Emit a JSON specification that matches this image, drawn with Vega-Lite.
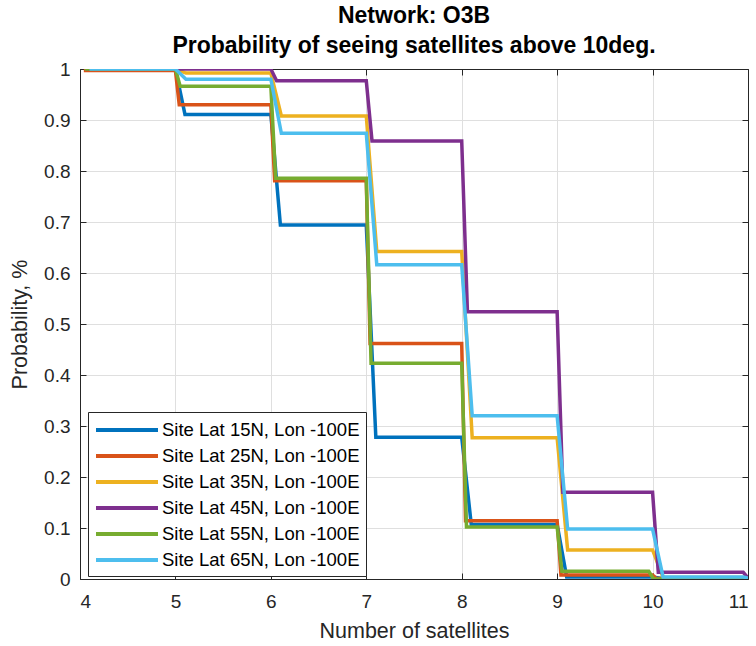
{
  "$schema": "https://vega.github.io/schema/vega-lite/v6.json",
  "width": 668,
  "height": 510,
  "autosize": {"type": "none"},
  "padding": {"left": 80, "top": 69, "right": 8, "bottom": 67},
  "background": "white",
  "title": {
    "text": ["Network: O3B", "Probability of seeing satellites above 10deg."],
    "anchor": "middle",
    "frame": "group",
    "font": "Liberation Sans",
    "fontSize": 23,
    "fontWeight": "bold",
    "color": "#000000",
    "lineHeight": 30,
    "offset": 2
  },
  "data": {"values": [
    {"site": "Site Lat 15N, Lon -100E", "n": 4.1, "p": 1.0},
    {"site": "Site Lat 15N, Lon -100E", "n": 5, "p": 1.0},
    {"site": "Site Lat 15N, Lon -100E", "n": 5.1, "p": 0.911},
    {"site": "Site Lat 15N, Lon -100E", "n": 6, "p": 0.911},
    {"site": "Site Lat 15N, Lon -100E", "n": 6.1, "p": 0.694},
    {"site": "Site Lat 15N, Lon -100E", "n": 7, "p": 0.694},
    {"site": "Site Lat 15N, Lon -100E", "n": 7.1, "p": 0.278},
    {"site": "Site Lat 15N, Lon -100E", "n": 8, "p": 0.278},
    {"site": "Site Lat 15N, Lon -100E", "n": 8.1, "p": 0.107},
    {"site": "Site Lat 15N, Lon -100E", "n": 9, "p": 0.107},
    {"site": "Site Lat 15N, Lon -100E", "n": 9.1, "p": 0.004},
    {"site": "Site Lat 15N, Lon -100E", "n": 10, "p": 0.004},
    {"site": "Site Lat 15N, Lon -100E", "n": 10.1, "p": 0.001},
    {"site": "Site Lat 15N, Lon -100E", "n": 11, "p": 0.001},
    {"site": "Site Lat 15N, Lon -100E", "n": 11.1, "p": 0.0},

    {"site": "Site Lat 25N, Lon -100E", "n": 4.04, "p": 0.997},
    {"site": "Site Lat 25N, Lon -100E", "n": 5, "p": 0.997},
    {"site": "Site Lat 25N, Lon -100E", "n": 5.04, "p": 0.93},
    {"site": "Site Lat 25N, Lon -100E", "n": 6, "p": 0.93},
    {"site": "Site Lat 25N, Lon -100E", "n": 6.04, "p": 0.781},
    {"site": "Site Lat 25N, Lon -100E", "n": 7, "p": 0.781},
    {"site": "Site Lat 25N, Lon -100E", "n": 7.04, "p": 0.462},
    {"site": "Site Lat 25N, Lon -100E", "n": 8, "p": 0.462},
    {"site": "Site Lat 25N, Lon -100E", "n": 8.04, "p": 0.114},
    {"site": "Site Lat 25N, Lon -100E", "n": 9, "p": 0.114},
    {"site": "Site Lat 25N, Lon -100E", "n": 9.04, "p": 0.008},
    {"site": "Site Lat 25N, Lon -100E", "n": 10, "p": 0.008},
    {"site": "Site Lat 25N, Lon -100E", "n": 10.04, "p": 0.001},
    {"site": "Site Lat 25N, Lon -100E", "n": 11, "p": 0.001},
    {"site": "Site Lat 25N, Lon -100E", "n": 11.04, "p": 0.0},

    {"site": "Site Lat 35N, Lon -100E", "n": 4.11, "p": 1.0},
    {"site": "Site Lat 35N, Lon -100E", "n": 5, "p": 1.0},
    {"site": "Site Lat 35N, Lon -100E", "n": 5.11, "p": 0.992},
    {"site": "Site Lat 35N, Lon -100E", "n": 6, "p": 0.992},
    {"site": "Site Lat 35N, Lon -100E", "n": 6.11, "p": 0.908},
    {"site": "Site Lat 35N, Lon -100E", "n": 7, "p": 0.908},
    {"site": "Site Lat 35N, Lon -100E", "n": 7.11, "p": 0.642},
    {"site": "Site Lat 35N, Lon -100E", "n": 8, "p": 0.642},
    {"site": "Site Lat 35N, Lon -100E", "n": 8.11, "p": 0.277},
    {"site": "Site Lat 35N, Lon -100E", "n": 9, "p": 0.277},
    {"site": "Site Lat 35N, Lon -100E", "n": 9.11, "p": 0.057},
    {"site": "Site Lat 35N, Lon -100E", "n": 10, "p": 0.057},
    {"site": "Site Lat 35N, Lon -100E", "n": 10.11, "p": 0.003},
    {"site": "Site Lat 35N, Lon -100E", "n": 11, "p": 0.003},
    {"site": "Site Lat 35N, Lon -100E", "n": 11.11, "p": 0.0},

    {"site": "Site Lat 45N, Lon -100E", "n": 4.06, "p": 1.0},
    {"site": "Site Lat 45N, Lon -100E", "n": 5, "p": 1.0},
    {"site": "Site Lat 45N, Lon -100E", "n": 5.06, "p": 1.0},
    {"site": "Site Lat 45N, Lon -100E", "n": 6, "p": 1.0},
    {"site": "Site Lat 45N, Lon -100E", "n": 6.06, "p": 0.977},
    {"site": "Site Lat 45N, Lon -100E", "n": 7, "p": 0.977},
    {"site": "Site Lat 45N, Lon -100E", "n": 7.06, "p": 0.859},
    {"site": "Site Lat 45N, Lon -100E", "n": 8, "p": 0.859},
    {"site": "Site Lat 45N, Lon -100E", "n": 8.06, "p": 0.524},
    {"site": "Site Lat 45N, Lon -100E", "n": 9, "p": 0.524},
    {"site": "Site Lat 45N, Lon -100E", "n": 9.06, "p": 0.17},
    {"site": "Site Lat 45N, Lon -100E", "n": 10, "p": 0.17},
    {"site": "Site Lat 45N, Lon -100E", "n": 10.06, "p": 0.013},
    {"site": "Site Lat 45N, Lon -100E", "n": 10.95, "p": 0.013},
    {"site": "Site Lat 45N, Lon -100E", "n": 11.01, "p": 0.0},

    {"site": "Site Lat 55N, Lon -100E", "n": 4.05, "p": 1.0},
    {"site": "Site Lat 55N, Lon -100E", "n": 5, "p": 1.0},
    {"site": "Site Lat 55N, Lon -100E", "n": 5.05, "p": 0.966},
    {"site": "Site Lat 55N, Lon -100E", "n": 6, "p": 0.966},
    {"site": "Site Lat 55N, Lon -100E", "n": 6.05, "p": 0.786},
    {"site": "Site Lat 55N, Lon -100E", "n": 7, "p": 0.786},
    {"site": "Site Lat 55N, Lon -100E", "n": 7.05, "p": 0.423},
    {"site": "Site Lat 55N, Lon -100E", "n": 8, "p": 0.423},
    {"site": "Site Lat 55N, Lon -100E", "n": 8.05, "p": 0.102},
    {"site": "Site Lat 55N, Lon -100E", "n": 9, "p": 0.102},
    {"site": "Site Lat 55N, Lon -100E", "n": 9.05, "p": 0.015},
    {"site": "Site Lat 55N, Lon -100E", "n": 9.96, "p": 0.015},
    {"site": "Site Lat 55N, Lon -100E", "n": 10.01, "p": 0.0},
    {"site": "Site Lat 55N, Lon -100E", "n": 11, "p": 0.0},
    {"site": "Site Lat 55N, Lon -100E", "n": 11.05, "p": 0.0},

    {"site": "Site Lat 65N, Lon -100E", "n": 4.1, "p": 1.0},
    {"site": "Site Lat 65N, Lon -100E", "n": 5, "p": 1.0},
    {"site": "Site Lat 65N, Lon -100E", "n": 5.11, "p": 0.98},
    {"site": "Site Lat 65N, Lon -100E", "n": 6, "p": 0.98},
    {"site": "Site Lat 65N, Lon -100E", "n": 6.11, "p": 0.874},
    {"site": "Site Lat 65N, Lon -100E", "n": 7, "p": 0.874},
    {"site": "Site Lat 65N, Lon -100E", "n": 7.11, "p": 0.616},
    {"site": "Site Lat 65N, Lon -100E", "n": 8, "p": 0.616},
    {"site": "Site Lat 65N, Lon -100E", "n": 8.11, "p": 0.32},
    {"site": "Site Lat 65N, Lon -100E", "n": 9, "p": 0.32},
    {"site": "Site Lat 65N, Lon -100E", "n": 9.11, "p": 0.098},
    {"site": "Site Lat 65N, Lon -100E", "n": 10, "p": 0.098},
    {"site": "Site Lat 65N, Lon -100E", "n": 10.11, "p": 0.004},
    {"site": "Site Lat 65N, Lon -100E", "n": 10.95, "p": 0.004},
    {"site": "Site Lat 65N, Lon -100E", "n": 11.05, "p": 0.0}
  ]},
  "layer": [
    {
      "mark": {"type": "line", "strokeWidth": 3.5, "clip": true, "strokeJoin": "miter"},
      "encoding": {
        "x": {
          "field": "n", "type": "quantitative",
          "scale": {"domain": [4, 11], "nice": false, "zero": false},
          "axis": {
            "title": "Number of satellites",
            "values": [4, 5, 6, 7, 8, 9, 10, 11],
            "grid": true,
            "tickSize": -6,
            "labelPadding": 19,
            "titlePadding": 9
          }
        },
        "y": {
          "field": "p", "type": "quantitative",
          "scale": {"domain": [0, 1], "nice": false},
          "axis": {
            "title": "Probability, %",
            "values": [0, 0.1, 0.2, 0.3, 0.4, 0.5, 0.6, 0.7, 0.8, 0.9, 1],
            "format": "~g",
            "grid": true,
            "tickSize": -6,
            "labelPadding": 16,
            "titlePadding": 12
          }
        },
        "color": {
          "field": "site", "type": "nominal",
          "scale": {
            "domain": ["Site Lat 15N, Lon -100E", "Site Lat 25N, Lon -100E", "Site Lat 35N, Lon -100E", "Site Lat 45N, Lon -100E", "Site Lat 55N, Lon -100E", "Site Lat 65N, Lon -100E"],
            "range": ["#0072BD", "#D95319", "#EDB120", "#7E2F8E", "#77AC30", "#4DBEEE"]
          },
          "legend": {
            "title": null,
            "orient": "none",
            "legendX": 8,
            "legendY": 343,
            "symbolType": "M-1,0H5.2",
            "symbolSize": 400,
            "symbolStrokeWidth": 4,
            "labelFontSize": 18.5,
            "labelFont": "Liberation Sans",
            "labelColor": "#000000",
            "labelOffset": 44,
            "rowPadding": 4,
            "padding": 6,
            "fillColor": "white",
            "strokeColor": "#262626",
            "labelLimit": 400
          }
        }
      }
    },
    {
      "mark": {"type": "point", "opacity": 0},
      "encoding": {
        "x": {
          "field": "n", "type": "quantitative",
          "axis": {"orient": "top", "title": null, "labels": false, "grid": false, "tickSize": -6, "values": [4, 5, 6, 7, 8, 9, 10, 11]}
        },
        "y": {
          "field": "p", "type": "quantitative",
          "axis": {"orient": "right", "title": null, "labels": false, "grid": false, "tickSize": -6, "values": [0, 0.1, 0.2, 0.3, 0.4, 0.5, 0.6, 0.7, 0.8, 0.9, 1]}
        }
      }
    }
  ],
  "resolve": {"axis": {"x": "independent", "y": "independent"}},
  "config": {
    "view": {"stroke": null},
    "font": "Liberation Sans",
    "axis": {
      "labelFont": "Liberation Sans",
      "labelFontSize": 19,
      "labelColor": "#262626",
      "titleFont": "Liberation Sans",
      "titleFontSize": 21.5,
      "titleFontWeight": "normal",
      "titleColor": "#262626",
      "domainColor": "#262626",
      "domainWidth": 1,
      "tickColor": "#262626",
      "tickWidth": 1,
      "gridColor": "#dfdfdf",
      "gridWidth": 1,
      "gridOpacity": 1
    }
  }
}
